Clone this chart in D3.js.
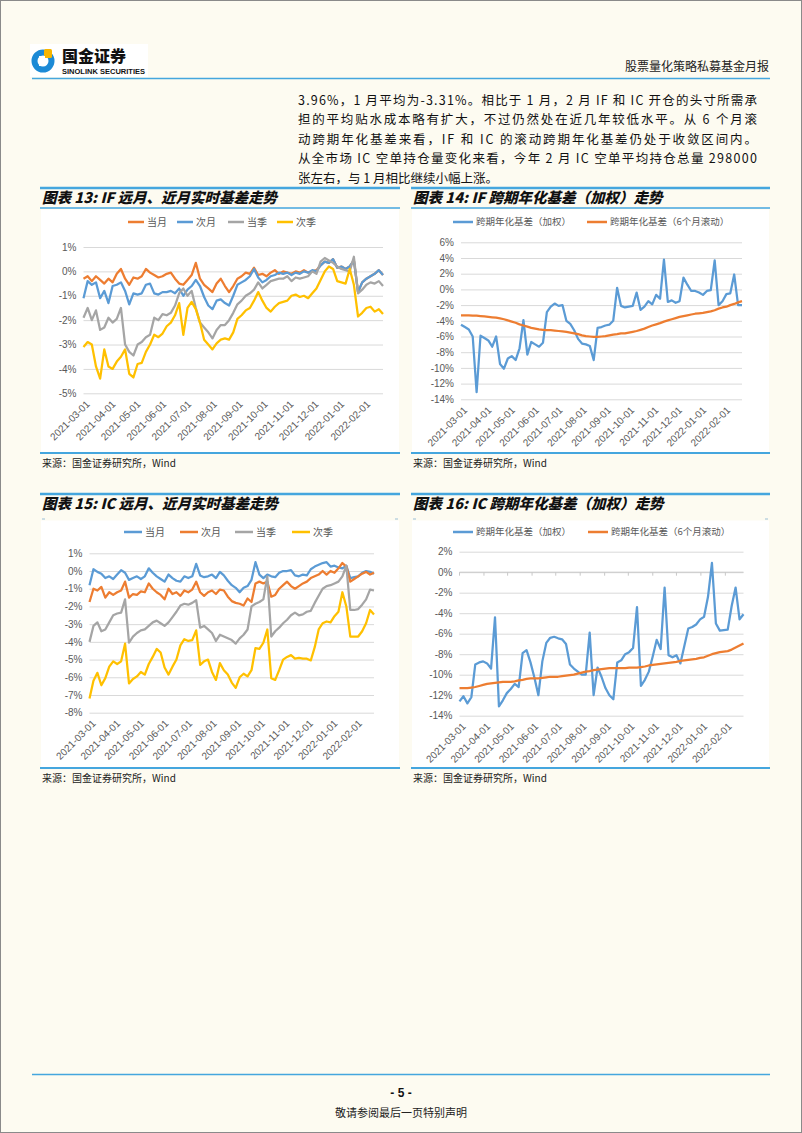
<!DOCTYPE html>
<html><head><meta charset="utf-8">
<script src="https://cdn.jsdelivr.net/npm/d3@7"></script>
<style>
body{margin:0;background:#fdfbf1;}
svg{display:block}
</style>
</head><body>
<svg id="page" width="802" height="1133"></svg>
<script>
// ---------------- data ----------------
const startDay = "2021-03-01";
const stepDays = 5;
const monthTicks = ["2021-03-01","2021-04-01","2021-05-01","2021-06-01","2021-07-01","2021-08-01",
  "2021-09-01","2021-10-01","2021-11-01","2021-12-01","2022-01-01","2022-02-01"];

// 图表13 IF (%)
const if13Cur = [-0.3,-0.2,-0.4,-0.2,-0.35,-0.5,-0.3,-0.45,-0.1,0.1,-0.3,-0.55,-0.25,-0.3,-0.2,0.1,-0.05,-0.15,-0.25,-0.2,
  -0.1,-0.05,-0.3,-0.5,-0.55,-0.35,-0.15,0.35,-0.3,-0.55,-0.7,-0.85,-0.5,-0.3,-0.6,-0.85,-0.6,-0.3,-0.2,-0.05,
  -0.1,0.15,-0.15,-0.1,-0.2,-0.05,0.05,-0.1,0.0,-0.05,-0.1,0.0,-0.05,0.05,-0.05,0.0,0.05,
  0.25,0.4,0.35,0.5,0.15,0.2,0.1,0.2,0.45,-0.85,-0.45,-0.3,-0.2,-0.1,0.05,-0.15];
const if13Next = [-1.1,-0.4,-0.55,-0.45,-1.1,-0.8,-1.3,-0.6,-0.55,-0.45,-0.8,-1.35,-0.9,-0.95,-0.9,-0.55,-0.5,-0.9,-0.95,-0.85,
  -0.85,-0.8,-0.9,-0.7,-1.0,-0.75,-0.6,-0.35,-0.6,-1.05,-1.4,-1.55,-1.2,-1.15,-1.3,-1.4,-1.0,-0.55,-0.45,-0.35,
  -0.2,0.1,-0.25,-0.45,-0.35,-0.2,-0.15,-0.05,-0.1,-0.05,-0.15,-0.05,-0.1,0.0,-0.05,0.05,0.0,0.25,0.4,0.35,
  0.5,0.15,0.2,0.1,0.2,0.45,-0.85,-0.45,-0.3,-0.2,-0.1,0.05,-0.15];
const if13Qtr = [-1.9,-1.5,-2.0,-1.6,-2.4,-2.3,-1.9,-2.1,-1.95,-1.5,-3.0,-3.3,-3.45,-3.0,-2.9,-2.7,-2.6,-1.9,-2.0,-1.75,
  -1.8,-1.7,-1.4,-0.9,-0.7,-1.0,-0.8,-1.5,-2.1,-2.3,-2.5,-2.75,-2.4,-2.2,-2.2,-2.0,-1.7,-1.35,-1.2,-1.0,
  -0.9,-0.75,-0.45,-0.7,-0.55,-0.4,-0.35,-0.3,-0.3,-0.2,-0.4,-0.25,-0.3,-0.25,-0.2,0.0,-0.1,0.4,0.55,0.45,
  0.35,0.2,0.1,0.05,0.0,0.6,-0.9,-0.75,-0.55,-0.45,-0.5,-0.4,-0.6];
const if13NextQtr = [-3.1,-2.9,-3.0,-3.9,-4.4,-3.2,-3.9,-4.0,-3.7,-3.5,-3.2,-4.2,-4.35,-3.8,-3.75,-3.3,-3.0,-2.6,-2.7,-2.55,
  -2.25,-2.1,-1.8,-1.3,-2.6,-1.5,-1.25,-1.55,-2.1,-2.8,-3.0,-3.2,-2.95,-2.8,-2.75,-2.8,-2.5,-1.95,-1.8,-1.6,
  -1.5,-1.2,-0.85,-1.2,-1.5,-1.65,-1.45,-1.3,-1.25,-1.2,-1.0,-0.95,-1.05,-1.0,-1.1,-0.9,-0.7,-0.35,0.0,0.2,
  0.1,-0.4,-0.45,-0.5,0.1,-0.55,-1.85,-1.7,-1.5,-1.45,-1.65,-1.55,-1.75];

// 图表14 IF 跨期年化基差 (%)
const if14Weighted = [-4.5,-4.8,-5.1,-6.0,-13.1,-5.9,-6.2,-6.5,-7.3,-6.0,-9.5,-10.1,-8.8,-8.5,-9.0,-7.5,-3.9,-8.3,-6.7,-7.0,
  -7.3,-6.8,-2.9,-2.2,-1.8,-2.1,-2.0,-4.0,-4.4,-5.2,-6.3,-6.9,-7.0,-7.2,-9.0,-4.9,-4.8,-4.6,-4.5,-4.0,
  0.2,-2.1,-2.3,-2.2,-2.1,-0.4,-2.6,-2.2,-1.5,-1.9,-0.7,-1.2,3.8,-1.6,-1.4,-1.7,-1.5,1.5,0.6,-0.2,
  -0.2,-0.4,-0.7,-0.2,-0.1,3.7,-2.0,-1.5,-0.6,-0.5,1.9,-2.0,-2.0];
const if14Rolling = [-3.3,-3.3,-3.3,-3.35,-3.35,-3.4,-3.45,-3.5,-3.55,-3.6,-3.7,-3.8,-3.95,-4.1,-4.25,-4.45,-4.6,-4.75,-4.9,-5.0,
  -5.1,-5.15,-5.2,-5.2,-5.25,-5.3,-5.35,-5.4,-5.5,-5.6,-5.7,-5.85,-5.95,-6.0,-6.05,-6.05,-6.0,-5.95,-5.85,-5.75,
  -5.7,-5.6,-5.6,-5.5,-5.4,-5.3,-5.15,-5.0,-4.8,-4.6,-4.45,-4.3,-4.1,-3.95,-3.8,-3.65,-3.5,-3.4,-3.3,-3.2,
  -3.1,-3.05,-3.0,-2.9,-2.8,-2.65,-2.45,-2.3,-2.2,-2.0,-1.85,-1.65,-1.5];

// 图表15 IC (%)
const ic15Cur = [-0.8,0.1,-0.05,-0.15,-0.4,-0.3,-0.45,-0.2,0.05,-0.1,-0.5,-0.4,-0.3,-0.45,-0.3,0.15,-0.1,-0.3,-0.45,-0.6,
  -0.2,-0.4,-0.55,-0.6,-0.3,-0.4,-0.3,0.4,-0.25,-0.35,-0.3,-0.2,-0.4,-0.05,-0.25,-0.55,-0.8,-0.95,-1.2,-0.95,
  -0.85,-0.5,0.5,-0.2,-0.4,-0.2,-0.3,-0.35,-0.1,0.0,0.0,0.05,-0.25,-0.3,-0.2,-0.25,0.1,0.25,0.35,0.45,
  0.5,0.25,0.3,0.2,0.15,0.3,-0.4,-0.35,-0.3,-0.1,0.0,-0.05,-0.15];
const ic15Next = [-1.75,-1.0,-1.1,-0.9,-1.5,-1.2,-1.35,-1.2,-1.1,-0.6,-1.5,-1.3,-1.35,-1.15,-1.2,-0.7,-1.0,-1.2,-1.35,-1.6,
  -1.0,-1.3,-1.2,-1.4,-1.1,-1.2,-1.05,-0.6,-1.2,-1.4,-1.2,-1.1,-1.3,-1.05,-1.1,-1.45,-1.7,-1.8,-1.85,-1.95,
  -1.55,-1.75,-0.7,-0.6,-0.7,-0.6,-1.45,-1.35,-1.0,-0.8,-0.6,-0.85,-1.0,-0.85,-0.7,-0.6,-0.4,-0.3,-0.2,0.0,
  -0.2,0.0,-0.1,0.15,0.45,0.25,-0.6,-0.45,-0.3,-0.15,-0.05,-0.2,-0.1];
const ic15Qtr = [-4.0,-3.1,-2.9,-3.4,-3.3,-2.9,-2.5,-2.4,-2.35,-1.6,-4.05,-3.7,-3.5,-3.35,-3.3,-3.1,-2.9,-2.8,-2.95,-3.1,
  -2.9,-2.6,-2.3,-1.95,-1.85,-1.9,-1.8,-1.65,-3.2,-3.1,-3.3,-3.5,-3.95,-3.6,-3.7,-3.8,-3.9,-4.1,-3.8,-3.6,
  -3.3,-2.0,-1.85,-1.75,-1.6,-0.3,-3.7,-3.4,-3.2,-2.95,-2.75,-2.5,-2.35,-2.5,-2.45,-2.3,-2.25,-1.8,-1.4,-1.0,
  -0.85,-0.8,-0.7,-0.6,-0.3,0.3,-2.2,-2.2,-2.15,-1.9,-1.6,-1.05,-1.1];
const ic15NextQtr = [-7.2,-6.2,-5.75,-6.45,-6.05,-5.4,-5.1,-5.25,-5.1,-4.1,-6.35,-6.1,-5.95,-5.7,-5.85,-5.25,-4.85,-4.4,-4.6,-5.45,
  -5.85,-5.4,-5.0,-4.2,-3.85,-3.95,-3.9,-3.35,-5.3,-5.1,-5.0,-5.7,-6.15,-5.2,-5.6,-5.85,-6.3,-6.6,-6.0,-5.8,
  -5.95,-5.6,-4.35,-4.4,-4.05,-3.3,-6.05,-6.15,-5.6,-5.0,-4.85,-4.75,-4.95,-4.9,-4.95,-4.95,-5.05,-4.3,-3.3,-2.95,
  -2.85,-2.9,-2.55,-2.3,-1.2,-2.0,-3.7,-3.7,-3.7,-3.4,-2.95,-2.2,-2.45];

// 图表16 IC 跨期年化基差 (%)
const ic16Weighted = [-12.6,-12.1,-12.8,-12.2,-9.0,-8.8,-8.7,-8.9,-9.4,-4.4,-13.1,-12.5,-11.8,-11.4,-10.9,-11.2,-7.9,-7.6,-8.8,-10.3,
  -12.0,-8.7,-6.9,-6.4,-6.3,-6.45,-6.55,-7.0,-9.0,-9.4,-9.7,-10.0,-10.0,-5.9,-12.0,-9.3,-10.2,-11.3,-12.0,-12.4,
  -8.8,-8.6,-8.0,-7.8,-7.4,-3.4,-11.1,-10.5,-9.7,-8.2,-6.6,-7.5,-1.5,-8.1,-8.3,-8.1,-8.9,-7.2,-5.5,-5.35,
  -5.1,-4.6,-4.35,-2.4,0.9,-5.0,-5.7,-5.65,-5.6,-3.3,-1.5,-4.6,-4.1];
const ic16Rolling = [-11.3,-11.3,-11.3,-11.25,-11.2,-11.1,-11.0,-10.9,-10.85,-10.8,-10.75,-10.7,-10.7,-10.7,-10.65,-10.55,-10.5,-10.4,-10.35,-10.35,
  -10.35,-10.3,-10.25,-10.2,-10.2,-10.2,-10.15,-10.1,-10.05,-10.0,-9.9,-9.8,-9.7,-9.65,-9.55,-9.5,-9.45,-9.4,-9.35,-9.35,
  -9.35,-9.35,-9.35,-9.3,-9.3,-9.3,-9.25,-9.2,-9.1,-9.05,-9.0,-8.95,-8.9,-8.85,-8.8,-8.75,-8.65,-8.6,-8.55,-8.5,
  -8.45,-8.35,-8.3,-8.15,-8.0,-7.9,-7.8,-7.75,-7.7,-7.55,-7.35,-7.15,-6.95];

const bodyLines = [
  "3.96%，1 月平均为-3.31%。相比于 1 月，2 月 IF 和 IC 开仓的头寸所需承",
  "担的平均贴水成本略有扩大，不过仍然处在近几年较低水平。从 6 个月滚",
  "动跨期年化基差来看，IF 和 IC 的滚动跨期年化基差仍处于收敛区间内。",
  "从全市场 IC 空单持仓量变化来看，今年 2 月 IC 空单平均持仓总量 298000",
  "张左右，与 1 月相比继续小幅上涨。"
];

// ---------------- drawing ----------------
const C = {blue:"#5B9BD5", orange:"#ED7D31", gray:"#A5A5A5", yellow:"#FFC000"};
const LINE_BLUE = "#45a6de";
const CJK = "'Noto Sans CJK SC', 'Noto Sans', sans-serif";
const LAT = "'Liberation Sans', Arial, sans-serif";
const parseDate = d3.timeParse("%Y-%m-%d");
const d0 = parseDate(startDay);
const nPts = if13Cur.length;
const dates = d3.range(nPts).map(i => d3.timeDay.offset(d0, i * stepDays));
const tickDates = monthTicks.map(parseDate);

const svg = d3.select("#page");
svg.append("rect").attr("x",0.5).attr("y",0.5).attr("width",801).attr("height",1132)
  .attr("fill","#fdfbf1").attr("stroke","#8a8a8a");

// header logo
svg.append("rect").attr("x",30).attr("y",44).attr("width",118).attr("height",33).attr("fill","#ffffff");
svg.append("circle").attr("cx",43).attr("cy",61).attr("r",8.5).attr("fill","none")
  .attr("stroke","#1c8ad6").attr("stroke-width",6);
svg.append("rect").attr("x",44).attr("y",49).attr("width",8).attr("height",9).attr("rx",1.5).attr("fill","#f7b500");
svg.append("rect").attr("x",39).attr("y",56).attr("width",6).attr("height",10).attr("fill","#ffffff");
svg.append("text").attr("x",62).attr("y",62).text("国金证券")
  .style("font-family",CJK).style("font-size","16px").style("font-weight",900).attr("fill","#111");
svg.append("text").attr("x",62).attr("y",74).text("SINOLINK SECURITIES")
  .attr("textLength",83).attr("lengthAdjust","spacingAndGlyphs")
  .style("font-family",LAT).style("font-size","7px").style("font-weight",700).attr("fill","#111");
svg.append("text").attr("x",769).attr("y",71).attr("text-anchor","end").text("股票量化策略私募基金月报")
  .style("font-family",CJK).style("font-size","12px").attr("fill","#222");
svg.append("line").attr("x1",32).attr("x2",770).attr("y1",78.5).attr("y2",78.5)
  .attr("stroke",LINE_BLUE).attr("stroke-width",1.5);

// body text
bodyLines.forEach((t,i) => {
  const tx = svg.append("text").attr("x",298).attr("y",105 + i*19.4).text(t)
    .style("font-family",CJK).style("font-size","12.5px").attr("fill","#111");
  if (i < bodyLines.length - 1) tx.attr("textLength",459).attr("lengthAdjust","spacing");
});

// footer
svg.append("line").attr("x1",32).attr("x2",770).attr("y1",1074.5).attr("y2",1074.5)
  .attr("stroke",LINE_BLUE).attr("stroke-width",1.5);
svg.append("text").attr("x",401).attr("y",1097).attr("text-anchor","middle").text("- 5 -")
  .style("font-family",LAT).style("font-size","12px").style("font-weight",700).attr("fill","#111");
svg.append("text").attr("x",401).attr("y",1117).attr("text-anchor","middle").text("敬请参阅最后一页特别声明")
  .style("font-family",CJK).style("font-size","11px").attr("fill","#222");

function frame(cfg) {
  svg.append("line").attr("x1",cfg.bx0).attr("x2",cfg.bx1).attr("y1",cfg.topY).attr("y2",cfg.topY)
    .attr("stroke",LINE_BLUE).attr("stroke-width",2.5);
  svg.append("text").attr("x",cfg.bx0 + 2).attr("y",cfg.topY + 14.5).text(cfg.title)
    .style("font-family",CJK).style("font-size","14.5px").style("font-weight",900)
    .style("font-style","italic").attr("fill","#111");
  if (cfg.fullUnderline) {
    svg.append("line").attr("x1",cfg.bx0).attr("x2",cfg.bx1).attr("y1",cfg.underY).attr("y2",cfg.underY)
      .attr("stroke",LINE_BLUE).attr("stroke-width",1.5);
  } else {
    [[cfg.bx0 + 2, cfg.bx0 + 5],[cfg.bx1 - 5, cfg.bx1 - 2]].forEach(s =>
      svg.append("line").attr("x1",s[0]).attr("x2",s[1]).attr("y1",cfg.underY).attr("y2",cfg.underY)
        .attr("stroke","#9bbfd6").attr("stroke-width",1));
  }
  svg.append("rect").attr("x",cfg.bx0 + 1).attr("y",cfg.underY + 1.5).attr("width",cfg.bx1 - cfg.bx0 - 2)
    .attr("height",cfg.bottomY - cfg.underY - 2.5).attr("fill","#ffffff");
  svg.append("line").attr("x1",cfg.bx0).attr("x2",cfg.bx1).attr("y1",cfg.bottomY).attr("y2",cfg.bottomY)
    .attr("stroke",LINE_BLUE).attr("stroke-width",2);
  svg.append("text").attr("x",cfg.bx0 + 2).attr("y",cfg.bottomY + 14).text("来源：国金证券研究所，Wind")
    .style("font-family",CJK).style("font-size","10px").attr("fill","#222");
}

function chart(cfg) {
  const g = svg.append("g");
  const x = d3.scaleTime().domain([dates[0], dates[nPts - 1]]).range([cfg.x0, cfg.x1]);
  const y = d3.scaleLinear().domain([cfg.ymin, cfg.ymax]).range([cfg.yBot, cfg.yTop]);
  const yTicks = d3.range(cfg.ymin, cfg.ymax + 0.001, cfg.ystep);

  const ya = g.append("g").attr("transform",`translate(${cfg.x0},0)`)
    .call(d3.axisLeft(y).tickValues(yTicks).tickSize(-(cfg.x1 - cfg.x0)).tickPadding(7)
      .tickFormat(d => d + "%"));
  ya.select(".domain").remove();
  ya.selectAll(".tick line").attr("stroke","#d9d9d9").attr("stroke-width",1);
  ya.selectAll(".tick text").attr("fill","#595959").style("font-family",LAT).style("font-size","10px");

  if (cfg.zeroTicks) {
    g.append("line").attr("x1",cfg.x0).attr("x2",cfg.x1).attr("y1",y(0)).attr("y2",y(0))
      .attr("stroke","#c8c8c8");
    g.selectAll(".zt").data(tickDates).enter().append("line")
      .attr("x1",d => x(d)).attr("x2",d => x(d)).attr("y1",y(0)).attr("y2",y(0) + 3.5)
      .attr("stroke","#c8c8c8");
  }

  const xa = g.append("g").attr("transform",`translate(0,${cfg.yBot})`)
    .call(d3.axisBottom(x).tickValues(tickDates).tickSize(0).tickFormat(d3.timeFormat("%Y-%m-%d")));
  xa.select(".domain").remove();
  xa.selectAll(".tick text").attr("x",0).attr("y",0).attr("dy","0.35em")
    .attr("transform","translate(4,9) rotate(-45)").style("text-anchor","end")
    .attr("fill","#595959").style("font-family",LAT).style("font-size","10px");

  const line = d3.line().x((d,i) => x(dates[i])).y(d => y(d));
  cfg.series.forEach(s => {
    g.append("path").datum(s.values).attr("d",line).attr("fill","none")
      .attr("stroke",s.color).attr("stroke-width",2.25).attr("stroke-linejoin","round");
  });

  cfg.series.forEach(s => {
    g.append("line").attr("x1",s.lx).attr("x2",s.lx + cfg.lw).attr("y1",cfg.legendY).attr("y2",cfg.legendY)
      .attr("stroke",s.color).attr("stroke-width",2.5);
    g.append("text").attr("x",s.lx + cfg.lw + 3).attr("y",cfg.legendY).attr("dy","0.35em").text(s.name)
      .style("font-family",CJK).style("font-size",cfg.lfs).attr("fill","#595959");
  });
}

frame({bx0:40, bx1:400, topY:188, underY:208, bottomY:453, fullUnderline:true,
  title:"图表 13: IF 远月、近月实时基差走势"});
frame({bx0:411, bx1:770, topY:188, underY:208, bottomY:453, fullUnderline:true,
  title:"图表 14: IF 跨期年化基差（加权）走势"});
frame({bx0:40, bx1:400, topY:494, underY:519, bottomY:768, fullUnderline:false,
  title:"图表 15: IC 远月、近月实时基差走势"});
frame({bx0:411, bx1:770, topY:494, underY:519, bottomY:768, fullUnderline:false,
  title:"图表 16: IC 跨期年化基差（加权）走势"});

chart({x0:83.5, x1:383, yTop:247, yBot:393.3, ymin:-5, ymax:1, ystep:1, legendY:222, lw:16, lfs:"10px",
  series:[
    {name:"当月", values:if13Cur, color:C.orange, lx:128},
    {name:"次月", values:if13Next, color:C.blue, lx:177},
    {name:"当季", values:if13Qtr, color:C.gray, lx:228},
    {name:"次季", values:if13NextQtr, color:C.yellow, lx:277}
  ]});
chart({x0:461, x1:742, yTop:242.3, yBot:399.3, ymin:-14, ymax:6, ystep:2, legendY:222, lw:20, lfs:"9.5px",
  series:[
    {name:"跨期年化基差（加权）", values:if14Weighted, color:C.blue, lx:453},
    {name:"跨期年化基差（6个月滚动）", values:if14Rolling, color:C.orange, lx:587}
  ]});
chart({x0:89.5, x1:374, yTop:553.3, yBot:712.7, ymin:-8, ymax:1, ystep:1, legendY:532, lw:18, lfs:"10px",
  series:[
    {name:"当月", values:ic15Cur, color:C.blue, lx:124},
    {name:"次月", values:ic15Next, color:C.orange, lx:180},
    {name:"当季", values:ic15Qtr, color:C.gray, lx:235},
    {name:"次季", values:ic15NextQtr, color:C.yellow, lx:292}
  ]});
chart({x0:459.5, x1:743.5, yTop:551.7, yBot:715.7, ymin:-14, ymax:2, ystep:2, legendY:532, lw:20, lfs:"9.5px",
  zeroTicks:true,
  series:[
    {name:"跨期年化基差（加权）", values:ic16Weighted, color:C.blue, lx:453},
    {name:"跨期年化基差（6个月滚动）", values:ic16Rolling, color:C.orange, lx:588}
  ]});
</script>
</body></html>
